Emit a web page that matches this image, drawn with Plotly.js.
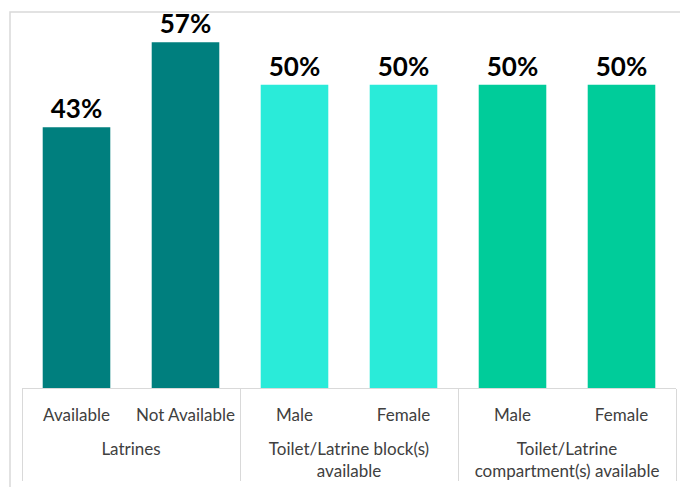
<!DOCTYPE html>
<html><head><meta charset="utf-8">
<script src="https://cdn.plot.ly/plotly-3.0.1.min.js"></script>
<style>html,body{margin:0;padding:0;background:#fff;}#chart{width:680px;height:487px;}</style>
</head><body><div id="chart"></div>
<script>
const groups = ["<br>Latrines", "<br>Latrines", "<br>Toilet/Latrine block(s)<br>available", "<br>Toilet/Latrine block(s)<br>available", "<br>Toilet/Latrine<br>compartment(s) available", "<br>Toilet/Latrine<br>compartment(s) available"];
const subLabels = ["Available", "Not Available", "Male", "Female", "Male", "Female"];
const values = [0.43, 0.57, 0.50, 0.50, 0.50, 0.50];
const labels = ["43%", "57%", "50%", "50%", "50%", "50%"];
const colors = ["#007F7E", "#007F7E", "#2AEBD9", "#2AEBD9", "#00CC9A", "#00CC9A"];

const trace = {
  type: "bar",
  x: [groups, subLabels],
  y: values,
  marker: {color: colors},
  text: labels,
  textposition: "outside",
  cliponaxis: false,
  textfont: {family: "Lato", size: 26, color: "#000000", weight: "bold"},
  hoverinfo: "none"
};

const layout = {
  width: 680, height: 487,
  margin: {l: 22, r: 4, t: 24, b: 99},
  paper_bgcolor: "#ffffff", plot_bgcolor: "#ffffff",
  showlegend: false,
  bargap: 0.38,
  font: {family: "Lato", size: 17, color: "#404040"},
  xaxis: {
    type: "multicategory",
    showline: true, linecolor: "#D9D9D9", linewidth: 1,
    showdividers: true, dividercolor: "#D9D9D9", dividerwidth: 1,
    ticks: "", tickangle: 0, ticklabelstandoff: 12,
    tickfont: {family: "Lato", size: 17, color: "#404040"},
    showgrid: false, zeroline: false
  },
  yaxis: {range: [0, 0.6], visible: false, showgrid: false, zeroline: false},
  shapes: [{
    type: "rect", xref: "paper", yref: "paper",
    x0: -12/654, x1: 700/654, y0: -200/364, y1: 1 + 12/364,
    line: {color: "#D9D9D9", width: 1.5}, fillcolor: "rgba(0,0,0,0)", layer: "below"
  }]
};

Plotly.newPlot("chart", [trace], layout, {displayModeBar: false, staticPlot: true});
</script></body></html>
